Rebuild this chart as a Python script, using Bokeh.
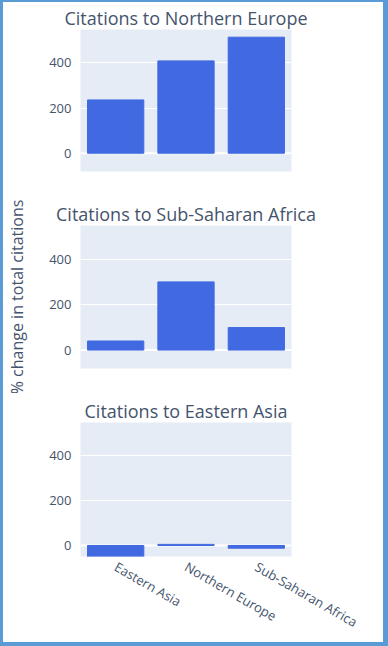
import math
from bokeh.plotting import figure
from bokeh.layouts import column
from bokeh.models import FixedTicker, Span, Range1d
from bokeh.embed import file_html
from bokeh.resources import INLINE

# ---- data ----
regions = ["Eastern Asia", "Northern Europe", "Sub-Saharan Africa"]
panel_titles = ["Citations to Northern Europe",
                "Citations to Sub-Saharan Africa",
                "Citations to Eastern Asia"]
northern_europe = [236, 409, 514]
sub_saharan_africa = [40, 300, 99]
eastern_asia = [-52, 5, -12]
y_ticks = [0, 200, 400]
y_label = "% change in total citations"

FONT = "Open Sans"
TXT = "#44546c"
BG = "#E5ECF6"
BAR = "#4169E1"
FRAME = "#5B9BD5"
W = 380


def make_panel(title, values, height, top, bottom, y_lo=-81, show_x=False, show_ylabel=False):
    p = figure(x_range=regions, y_range=Range1d(y_lo, 548), width=W, height=height,
               output_backend="svg", toolbar_location=None,
               min_border_left=71, min_border_right=92,
               min_border_top=top, min_border_bottom=bottom)
    p.title.text = title
    p.title.align = "center"
    p.title.text_font = FONT
    p.title.text_font_size = "18px"
    p.title.text_font_style = "normal"
    p.title.text_color = TXT
    p.title.standoff = 0
    p.background_fill_color = BG
    p.border_fill_color = "white"
    p.outline_line_color = None

    p.vbar(x=regions, top=values, width=0.8, color=BAR)

    zero = Span(location=0, dimension="width", line_color="white", line_width=2, level="underlay")
    p.add_layout(zero)

    p.xgrid.visible = False
    p.ygrid.grid_line_color = "white"
    p.ygrid.grid_line_width = 1

    ya = p.yaxis[0]
    ya.ticker = FixedTicker(ticks=y_ticks)
    ya.axis_line_color = None
    ya.major_tick_line_color = None
    ya.minor_tick_line_color = None
    ya.major_label_standoff = 3
    ya.major_label_text_font = FONT
    ya.major_label_text_font_size = "13px"
    ya.major_label_text_color = TXT
    if show_ylabel:
        ya.axis_label = y_label
        ya.axis_label_text_font = FONT
        ya.axis_label_text_font_size = "16px"
        ya.axis_label_text_font_style = "normal"
        ya.axis_label_text_color = TXT
        ya.axis_label_standoff = 18

    xa = p.xaxis[0]
    if show_x:
        xa.axis_line_color = None
        xa.major_tick_line_color = None
        xa.minor_tick_line_color = None
        xa.major_label_orientation = -math.pi / 6
        xa.major_label_standoff = 3
        xa.major_label_text_font = FONT
        xa.major_label_text_font_size = "13px"
        xa.major_label_text_color = TXT
    else:
        xa.visible = False
    return p


p1 = make_panel(panel_titles[0], northern_europe, 194, 27, 25)
p2 = make_panel(panel_titles[1], sub_saharan_africa, 197, 29, 25, show_ylabel=True)
p3 = make_panel(panel_titles[2], eastern_asia, 249, 29, 86, y_lo=-49, show_x=True)

layout = column(p1, p2, p3, spacing=0,
                styles={"box-sizing": "content-box",
                        "border-left": f"3px solid {FRAME}",
                        "border-top": f"2px solid {FRAME}",
                        "border-right": f"5px solid {FRAME}",
                        "border-bottom": f"4px solid {FRAME}"})

open("out.html", "w").write(file_html(layout, INLINE))
